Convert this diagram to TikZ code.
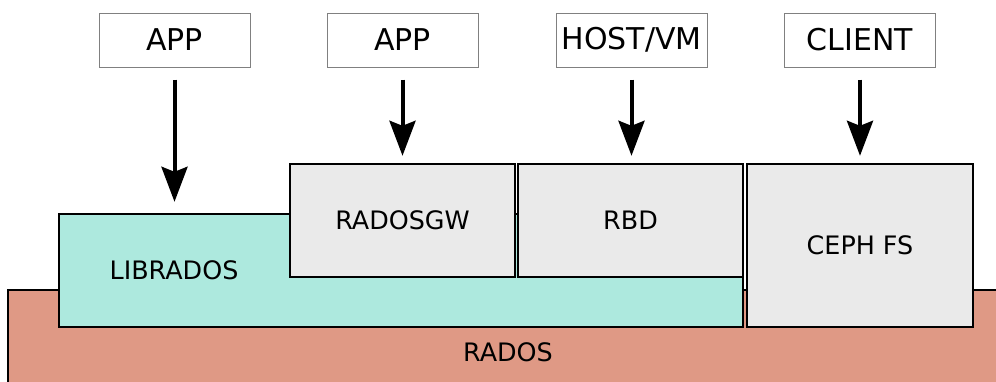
\documentclass[tikz,border=0pt]{standalone}
\usepackage{fontspec}
\setmainfont{DejaVu Sans}
\usetikzlibrary{arrows.meta}
\definecolor{radosred}{RGB}{223,153,133}
\definecolor{libcyan}{RGB}{173,233,222}
\definecolor{boxgray}{RGB}{234,234,234}
\begin{document}
\begin{tikzpicture}[x=0.5pt,y=-0.5pt,
  client/.style={draw=black!50, line width=0.5pt, fill=white, inner sep=0pt,
    minimum width=75.5pt, minimum height=27pt, font=\fontsize{15}{18}\selectfont},
  layer/.style={draw, line width=1.2pt, inner sep=0pt, font=\fontsize{12.7}{15}\selectfont},
  feed/.style={line width=2pt, -{Stealth[length=17.5pt,width=13pt,inset=2.5pt]}}]
\useasboundingbox (0,0) rectangle (996,381);
\clip (0,0) rectangle (996,381);
% the layers, bottom up
\node[layer, fill=radosred, minimum width=498pt, minimum height=50pt] (rados) at (506,340) {};
\node at (508,352) [font=\fontsize{12.7}{15}\selectfont] (radoslabel) {RADOS};
\node[layer, fill=libcyan, minimum width=342pt, minimum height=56.5pt] (librados) at (401,270.5) {};
\node at (174,270) [font=\fontsize{12.7}{15}\selectfont] (libradoslabel) {LIBRADOS};
\node[layer, fill=boxgray, minimum width=112.5pt, minimum height=56.5pt] (rgw) at (402.5,220.5) {RADOSGW};
\node[layer, fill=boxgray, minimum width=112.5pt, minimum height=56.5pt] (rbd) at (630.5,220.5) {RBD};
\node[layer, fill=boxgray, minimum width=113pt, minimum height=81.5pt] (cephfs) at (860,245.5) {CEPH FS};
% the users on top
\node[client] (app1) at (174.5,40) {APP};
\node[client] (app2) at (402.5,40) {APP};
\node[client] (host) at (631.5,40) {HOST/VM};
\node[client] (client) at (860,40) {CLIENT};
\draw[feed, shorten <=6pt, shorten >=5.5pt] (app1.south) -- (app1.south |- librados.north);
\draw[feed, shorten <=6pt, shorten >=3.5pt] (app2.south) -- (app2.south |- rgw.north);
\draw[feed, shorten <=6pt, shorten >=3.5pt] (host.south) -- (host.south |- rbd.north);
\draw[feed, shorten <=6pt, shorten >=3.5pt] (client.south) -- (client.south |- cephfs.north);
\end{tikzpicture}
\end{document}
